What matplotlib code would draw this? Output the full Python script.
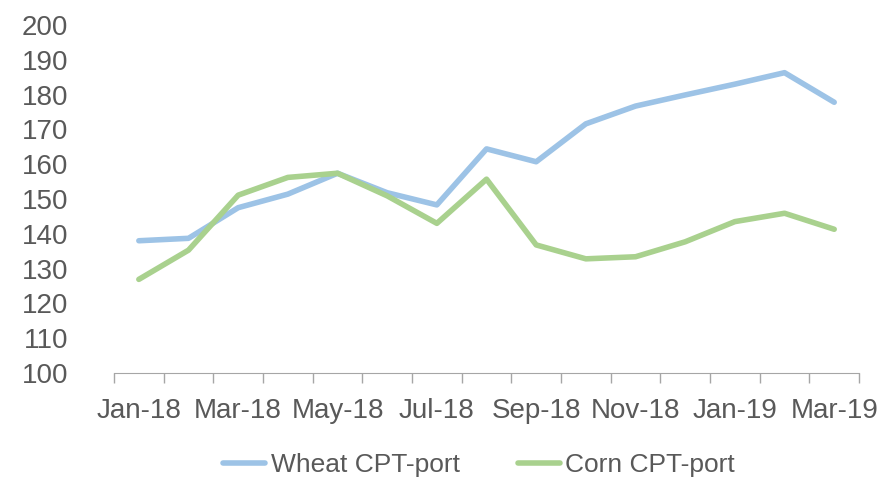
import matplotlib.pyplot as plt
from matplotlib.ticker import FixedLocator

months = ["Jan-18", "Feb-18", "Mar-18", "Apr-18", "May-18", "Jun-18", "Jul-18",
          "Aug-18", "Sep-18", "Oct-18", "Nov-18", "Dec-18", "Jan-19", "Feb-19", "Mar-19"]
wheat = [138.0, 138.7, 147.5, 151.4, 157.4, 151.8, 148.3, 164.4,
         160.7, 171.6, 176.7, 179.9, 183.0, 186.3, 177.8]
corn = [126.9, 135.3, 151.1, 156.2, 157.4, 150.9, 143.0, 155.7,
        136.8, 132.8, 133.4, 137.7, 143.5, 145.9, 141.3]

plt.rcParams['font.family'] = ['Liberation Sans', 'DejaVu Sans']
text_color = '#595959'

fig = plt.figure(figsize=(8.79, 4.78), dpi=100)
ax = fig.add_axes([0.1297, 0.2197, 0.9773 - 0.1297, 0.9477 - 0.2197])

x = list(range(len(months)))
ax.plot(x, wheat, color='#9DC3E6', lw=4, solid_capstyle='round', label='Wheat CPT-port')
ax.plot(x, corn, color='#A9D18E', lw=4, solid_capstyle='round', label='Corn CPT-port')

ax.set_xlim(-0.5, len(months) - 0.5)
ax.set_ylim(100, 200)
ax.set_yticks(range(100, 201, 10))
ax.tick_params(axis='y', length=0, pad=33, labelsize=20, labelcolor=text_color)

# category boundaries as tick marks, labels on every other month
ax.xaxis.set_major_locator(FixedLocator([i - 0.5 for i in range(len(months) + 1)]))
ax.xaxis.set_major_formatter(plt.NullFormatter())
ax.xaxis.set_minor_locator(FixedLocator(x[::2]))
ax.set_xticklabels(months[::2], minor=True)
ax.tick_params(axis='x', which='major', length=7, width=1, color='#A6A6A6')
ax.tick_params(axis='x', which='minor', length=0, pad=18, labelsize=20, labelcolor=text_color)

for side in ['left', 'right', 'top']:
    ax.spines[side].set_visible(False)
ax.spines['bottom'].set_color('#A6A6A6')

ax.legend(loc='center', bbox_to_anchor=(0.49, -0.265), ncol=2, frameon=False,
          fontsize=19, labelcolor=text_color, handlelength=1.6, handletextpad=0.2,
          columnspacing=2.2)

fig.savefig('out.png', dpi=100)
